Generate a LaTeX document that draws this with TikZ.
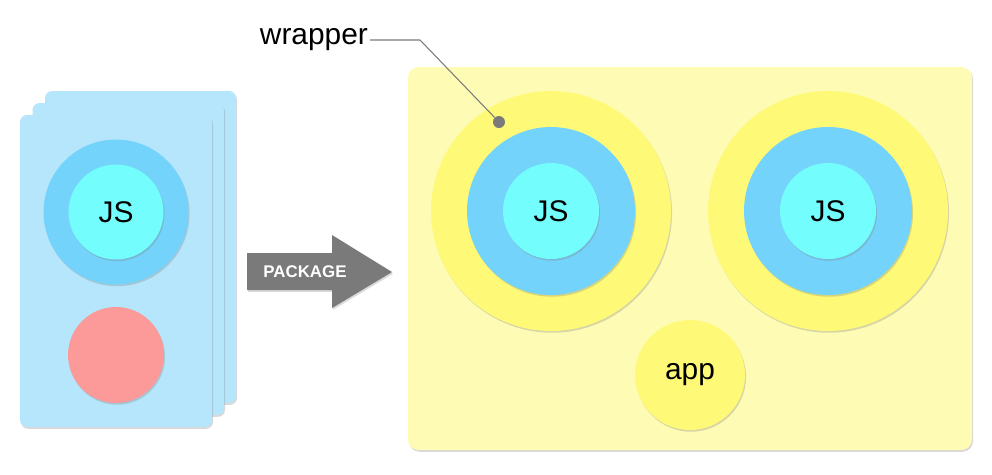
\documentclass[tikz,border=0pt]{standalone}
\usepackage{fontspec}
\setmainfont{Liberation Sans}
\usepackage{tikz}
\usetikzlibrary{shadows}
\definecolor{cardblue}{HTML}{B5E6FC}
\definecolor{ringblue}{HTML}{74D3FB}
\definecolor{jscyan}{HTML}{74FDFD}
\definecolor{rosered}{HTML}{FC9A9A}
\definecolor{paleyellow}{HTML}{FEFCB4}
\definecolor{ringyellow}{HTML}{FEFA78}
\definecolor{arrowgray}{HTML}{7A7A7A}
\tikzset{
    soft/.style={drop shadow={shadow xshift=0.6pt, shadow yshift=-1pt, opacity=0.3}},
    card/.style={soft, fill=cardblue, rounded corners=4pt},
    disc/.style={circle, inner sep=0pt, soft, font=\fontsize{17}{17}\selectfont},
}

\begin{document}
\begin{tikzpicture}[x=0.02cm,y=-0.02cm]
\useasboundingbox (0,0) rectangle (992,474);
% stack of cards
\foreach \i in {2,1,0} {
\fill[card] (20+12.5*\i,115-12*\i) rectangle (212+12*\i,427-12*\i);
}
\node[disc, fill=ringblue, minimum size=2.9cm] (lring) at (116,212) {};
\node[disc, fill=jscyan, minimum size=1.9cm] (ljs) at (116,212) {JS};
\node[disc, fill=rosered, minimum size=1.92cm] (red) at (116,355) {};
% package arrow
\fill[soft, arrowgray] (247,253) -- (332,253) -- (332,235) -- (392,272) -- (332,308)
  -- (332,290) -- (247,290) -- cycle;
\node[font=\bfseries\fontsize{9.6}{9.6}\selectfont, text=white] (packlbl) at (305,272) {PACKAGE};
% application
\fill[soft, fill=paleyellow, rounded corners=6pt] (408,67) rectangle (972,450);
\foreach \n/\x in {a/551,b/828} {
\node[disc, fill=ringyellow, minimum size=4.8cm] (wrap\n) at (\x,211) {};
\node[disc, fill=ringblue, minimum size=3.36cm] (ring\n) at (\x,211) {};
\node[disc, fill=jscyan, minimum size=1.92cm] (js\n) at (\x,211) {JS};
}
\node[disc, fill=ringyellow, minimum size=2.2cm] (app) at (690,375) {app};
% label
\node[font=\fontsize{17}{17}\selectfont, anchor=east, inner sep=1pt] (lbl) at (370,40) {wrapper};
\node[circle, fill=arrowgray, inner sep=0pt, minimum size=0.24cm] (dot) at (499,122) {};
\coordinate (bend) at (420,40);
\draw[arrowgray, line width=0.6pt] (lbl.east) -- (bend) -- (dot);
\end{tikzpicture}
\end{document}
